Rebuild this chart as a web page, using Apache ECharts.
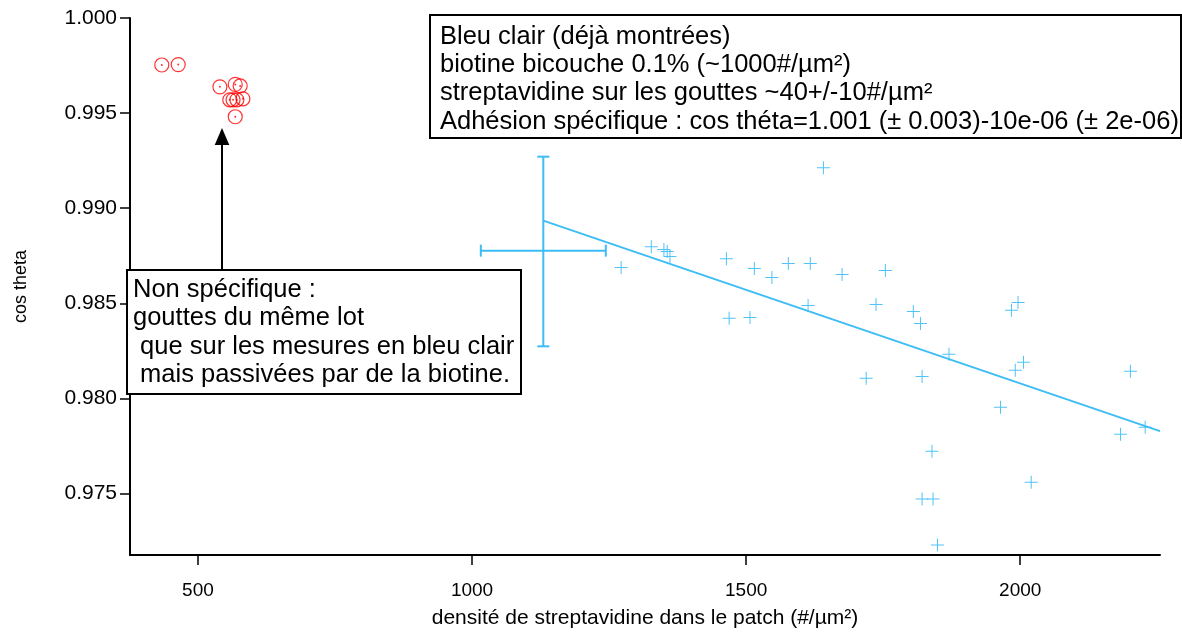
<!DOCTYPE html>
<html>
<head>
<meta charset="utf-8">
<script src="https://cdn.jsdelivr.net/npm/echarts@6/dist/echarts.min.js"></script>
<style>
html,body{margin:0;padding:0;background:#fff;}
#chart{width:1182px;height:634px;}
</style>
</head>
<body>
<div id="chart"></div>
<script>
// ---- data ----
const redX = [434, 464, 540, 568, 577, 558, 564, 571, 582, 568];
const redY = [0.99753, 0.99755, 0.99638, 0.99651, 0.99643, 0.99570, 0.99570, 0.99570, 0.99575, 0.99481];

const blueX = [1272,1327,1350,1356,1361,1464,1515,1547,1577,1617,1675,1754,1641,1469,1507,1613,1737,1805,1818,1870,1719,1821,1964,1984,1996,1991,2006,2201,2183,2228,1839,2020,1821,1841,1849];
const blueY = [0.98688,0.98798,0.98783,0.98772,0.98746,0.98735,0.98683,0.98636,0.98709,0.98709,0.98652,0.98673,0.99213,0.98421,0.98426,0.98489,0.98494,0.98457,0.98394,0.98232,0.98106,0.98116,0.97954,0.98463,0.98505,0.98148,0.98190,0.98143,0.97812,0.97849,0.97723,0.97560,0.97471,0.97471,0.97230];

const errCenter = [1130, 0.98777];
const errXRange = [1016, 1244];
const errYRange = [0.98274, 0.99271];

const fitX = [1130, 2255];
const fitY = [0.98935, 0.97828];

const xTicks = [500, 1000, 1500, 2000];
const yTicks = [0.975, 0.980, 0.985, 0.990, 0.995, 1.000];

const xTitle = 'densité de streptavidine dans le patch (#/µm²)';
const yTitle = 'cos theta';
const boxTop = 'Bleu clair (déjà montrées)\nbiotine bicouche 0.1% (~1000#/µm²)\nstreptavidine sur les gouttes ~40+/-10#/µm²\nAdhésion spécifique : cos théta=1.001 (± 0.003)-10e-06 (± 2e-06)';
const boxLeft = 'Non spécifique :\ngouttes du même lot\n que sur les mesures en bleu clair\n mais passivées par de la biotine.';

// ---- chart ----
const FONT = '"Liberation Sans", Arial, sans-serif';
const BLUE = '#3dbdf6';
const chart = echarts.init(document.getElementById('chart'), null, {renderer: 'canvas'});

const crossPath = 'path://M6,0h1v6h6v1h-6v6h-1v-6h-6v-1h6z';

const option = {
  backgroundColor: '#ffffff',
  animation: false,
  textStyle: {fontFamily: FONT},
  grid: {left: 130, right: 22, top: 18, bottom: 78, containLabel: false},
  xAxis: {
    type: 'value', min: 376, max: 2255,
    name: xTitle, nameLocation: 'middle', nameGap: 53,
    nameTextStyle: {fontSize: 21, color: '#000', fontFamily: FONT},
    axisLine: {show: true, onZero: false, lineStyle: {color: '#000', width: 2}},
    axisTick: {show: true, customValues: xTicks, length: 10, lineStyle: {color: '#000', width: 1.5}},
    axisLabel: {customValues: xTicks, margin: 26, fontSize: 19, color: '#000', fontFamily: FONT,
      formatter: v => String(Math.round(v))},
    splitLine: {show: false}
  },
  yAxis: {
    type: 'value', min: 0.97177, max: 1.0,
    name: yTitle, nameLocation: 'middle', nameGap: 100, nameRotate: 90,
    nameTextStyle: {fontSize: 18, color: '#000', fontFamily: FONT},
    axisLine: {show: true, onZero: false, lineStyle: {color: '#000', width: 2}},
    axisTick: {show: true, customValues: yTicks, length: 10, lineStyle: {color: '#000', width: 1.5}},
    axisLabel: {customValues: yTicks, margin: 13, fontSize: 21, color: '#000', fontFamily: FONT,
      formatter: v => v.toFixed(3)},
    splitLine: {show: false}
  },
  series: [
    {
      type: 'line', data: fitX.map((x, i) => [x, fitY[i]]),
      showSymbol: false, symbol: 'none', lineStyle: {color: BLUE, width: 2}, z: 2
    },
    {
      type: 'custom',
      data: [[errCenter[0], errCenter[1], errXRange[0], errXRange[1], errYRange[0], errYRange[1]]],
      renderItem: function (params, api) {
        const xl = api.coord([api.value(2), api.value(1)]);
        const xh = api.coord([api.value(3), api.value(1)]);
        const yl = api.coord([api.value(0), api.value(4)]);
        const yh = api.coord([api.value(0), api.value(5)]);
        const cap = 6;
        const st = {stroke: BLUE, lineWidth: 2};
        const L = (x1, y1, x2, y2) => ({type: 'line', shape: {x1, y1, x2, y2}, style: st});
        return {type: 'group', children: [
          L(xl[0], xl[1], xh[0], xh[1]),
          L(xl[0], xl[1] - cap, xl[0], xl[1] + cap),
          L(xh[0], xh[1] - cap, xh[0], xh[1] + cap),
          L(yl[0], yl[1], yh[0], yh[1]),
          L(yl[0] - cap, yl[1], yl[0] + cap, yl[1]),
          L(yh[0] - cap, yh[1], yh[0] + cap, yh[1])
        ]};
      },
      z: 2
    },
    {
      type: 'scatter', data: blueX.map((x, i) => [x, blueY[i]]),
      symbol: crossPath, symbolSize: 13, itemStyle: {color: BLUE, opacity: 0.9}, z: 3
    },
    {
      type: 'scatter', data: redX.map((x, i) => [x, redY[i]]),
      symbol: 'circle', symbolSize: 14,
      itemStyle: {color: 'rgba(255,255,255,0)', borderColor: '#ff0000', borderWidth: 1.2}, z: 3
    },
    {
      type: 'scatter', data: redX.map((x, i) => [x, redY[i]]),
      symbol: 'circle', symbolSize: 2, itemStyle: {color: '#ff0000'}, z: 3
    }
  ],
  graphic: [
    {type: 'rect', z: 100, shape: {x: 430, y: 15, width: 751, height: 123},
      style: {fill: '#fff', stroke: '#000', lineWidth: 2}},
    {type: 'text', z: 101, x: 440, y: 22.5,
      style: {text: boxTop, font: '25.5px ' + FONT, fill: '#000', lineHeight: 28.3, verticalAlign: 'top'}},
    {type: 'line', z: 100, shape: {x1: 222, y1: 144, x2: 222, y2: 270}, style: {stroke: '#000', lineWidth: 2}},
    {type: 'polygon', z: 100, shape: {points: [[214.7, 145], [229.3, 145], [222, 128]]}, style: {fill: '#000'}},
    {type: 'rect', z: 100, shape: {x: 127, y: 270, width: 394, height: 124},
      style: {fill: '#fff', stroke: '#000', lineWidth: 2}},
    {type: 'text', z: 101, x: 133, y: 276,
      style: {text: boxLeft, font: '25.5px ' + FONT, fill: '#000', lineHeight: 28.3, verticalAlign: 'top'}}
  ]
};
chart.setOption(option);
</script>
</body>
</html>
